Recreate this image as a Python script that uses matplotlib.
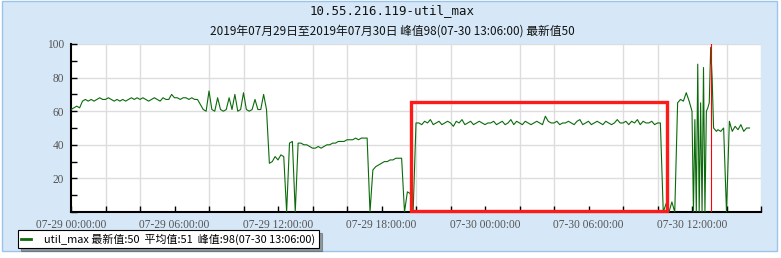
import matplotlib
matplotlib.use("Agg")
import matplotlib.pyplot as plt
import matplotlib.dates as mdates
from matplotlib.patches import Rectangle
import numpy as np
import pandas as pd

# util_max, one value every 10 minutes from 07-29 00:00
block_00 = [61, 62, 63, 62, 66, 67,
            66, 67, 66, 67, 68, 67,
            67, 68, 67, 66, 67, 66,
            67, 66, 67, 68, 67, 68,
            67, 68, 67, 66, 67, 68,
            67, 66, 68, 67, 67, 70]
block_06 = [68, 68, 67, 68, 68, 67,
            68, 67, 67, 64, 61, 60,
            72, 61, 60, 68, 61, 60,
            61, 68, 61, 70, 60, 61,
            71, 61, 60, 61, 67, 61,
            61, 70, 61, 29, 30, 33]
block_12 = [31, 34, 33, 0, 41, 42,
            0, 41, 41, 40, 40, 39,
            38, 38, 39, 38, 39, 40,
            40, 41, 41, 42, 42, 42,
            43, 43, 43, 44, 43, 44,
            44, 44, 0, 25, 27, 28]
block_18 = [29, 30, 30, 31, 31, 32,
            32, 32, 0, 12, 11, 0,
            53, 53, 52, 54, 53, 55,
            52, 53, 54, 52, 53, 54,
            53, 51, 54, 53, 55, 52,
            53, 54, 52, 53, 54, 53]
block_24 = [52, 53, 53, 54, 52, 53,
            54, 52, 53, 55, 52, 54,
            53, 52, 54, 53, 52, 53,
            54, 53, 52, 57, 54, 53,
            53, 54, 52, 53, 53, 54,
            53, 52, 54, 55, 52, 53]
block_30 = [54, 52, 53, 54, 53, 52,
            54, 53, 52, 53, 55, 53,
            53, 54, 52, 54, 53, 55,
            52, 54, 53, 53, 54, 52,
            53, 53, 0, 5, 0, 6,
            0, 65, 67, 66, 71, 66]
# 07-30 12:00 - 13:25, every 5 minutes
burst = [60, 0, 55, 0, 88, 0, 65, 0, 86, 0, 60, 62,
         65, 98, 80, 50, 49, 48]
# 07-30 13:30 onwards, every 10 minutes
tail = [49, 48, 50, 0, 54, 48, 51, 49, 52, 48, 50, 50]

start = pd.Timestamp("2019-07-29 00:00:00")
end = pd.Timestamp("2019-07-30 16:00:00")
peak_time = pd.Timestamp("2019-07-30 13:06:00")
box_from = pd.Timestamp("2019-07-29 19:41:00")
box_to = pd.Timestamp("2019-07-30 10:34:00")

main_vals = block_00 + block_06 + block_12 + block_18 + block_24 + block_30
minutes = np.concatenate([
    np.arange(len(main_vals)) * 10,
    2160 + np.arange(len(burst)) * 5,
    2250 + np.arange(len(tail)) * 10,
])
times = (start + pd.to_timedelta(minutes, unit="min")).to_pydatetime()
values = np.array(main_vals + burst + tail, dtype=float)

W, H = 781, 258
fig = plt.figure(figsize=(W / 100, H / 100), dpi=100)
fig.patch.set_facecolor("white")
frame = Rectangle((2 / W, 1 - 251 / H), 775 / W, 251 / H - 0.5 / H,
                  transform=fig.transFigure, facecolor="#d6e8f8",
                  edgecolor="#9cc3e8", linewidth=1, zorder=-5)
fig.patches.append(frame)

ax = fig.add_axes([71 / W, 1 - 212 / H, 690 / W, 168 / H], zorder=2)
ax.set_facecolor("white")

ax.plot(times, values, color="#0b6b0b", linewidth=0.8, zorder=3)
ax.axvline(peak_time, color="red", linewidth=0.8, zorder=4)

x0 = mdates.date2num(box_from)
x1 = mdates.date2num(box_to)
ax.add_patch(Rectangle((x0, 0.8), x1 - x0, 64.7, fill=False,
                       edgecolor="#ff1a1a", linewidth=2.4, zorder=5,
                       clip_on=False))

ax.set_xlim(start, end)
ax.set_ylim(0, 100)

ax.xaxis.set_major_locator(mdates.HourLocator(byhour=[0, 6, 12, 18]))
ax.xaxis.set_major_formatter(mdates.DateFormatter("%m-%d %H:%M:%S"))
ax.xaxis.set_minor_locator(mdates.HourLocator(byhour=range(0, 24, 2)))
ax.set_yticks([20, 40, 60, 80, 100])
ax.set_yticks([0, 10, 30, 50, 70, 90], minor=True)

ax.grid(True, which="minor", axis="x", color="#dddddd", linewidth=1)
ax.grid(True, which="major", axis="y", color="#dddddd", linewidth=1)
ax.set_axisbelow(True)

ax.tick_params(axis="x", which="both", direction="in", length=4, width=1,
               color="black", labelsize=8.3, labelcolor="#555555", pad=5)
ax.tick_params(axis="y", which="both", direction="in", length=4, width=1,
               color="black", labelsize=8.3, labelcolor="#555555", pad=5)
for lab in ax.get_xticklabels() + ax.get_yticklabels():
    lab.set_family("Liberation Serif")

for side in ("top", "right"):
    ax.spines[side].set_visible(False)
for side in ("left", "bottom"):
    ax.spines[side].set_linewidth(1.5)
    ax.spines[side].set_color("black")

fig.text(392 / W, 1 - 11 / H, "10.55.216.119-util_max", ha="center", va="center",
         fontsize=9, family="DejaVu Sans Mono", color="#111111")
fig.text(392 / W, 1 - 31 / H,
         "2019年07月29日至2019年07月30日 峰值98(07-30 13:06:00) 最新值50",
         ha="center", va="center", fontsize=8.5,
         family=["Noto Sans CJK SC", "DejaVu Sans"], color="#111111")

leg = ax.legend(["util_max 最新值:50  平均值:51  峰值:98(07-30 13:06:00)"],
                loc="upper left", bbox_to_anchor=(18 / W, 1 - 230 / H),
                bbox_transform=fig.transFigure, borderaxespad=0,
                fancybox=False, shadow=True, framealpha=1,
                handlelength=0.9, handletextpad=1.2, borderpad=0.3,
                prop={"family": ["Noto Sans CJK SC", "DejaVu Sans"], "size": 7.9})
leg.get_frame().set_edgecolor("black")
leg.get_frame().set_linewidth(0.8)
leg.get_lines()[0].set_linewidth(2)

fig.savefig("out.png", dpi=100)
